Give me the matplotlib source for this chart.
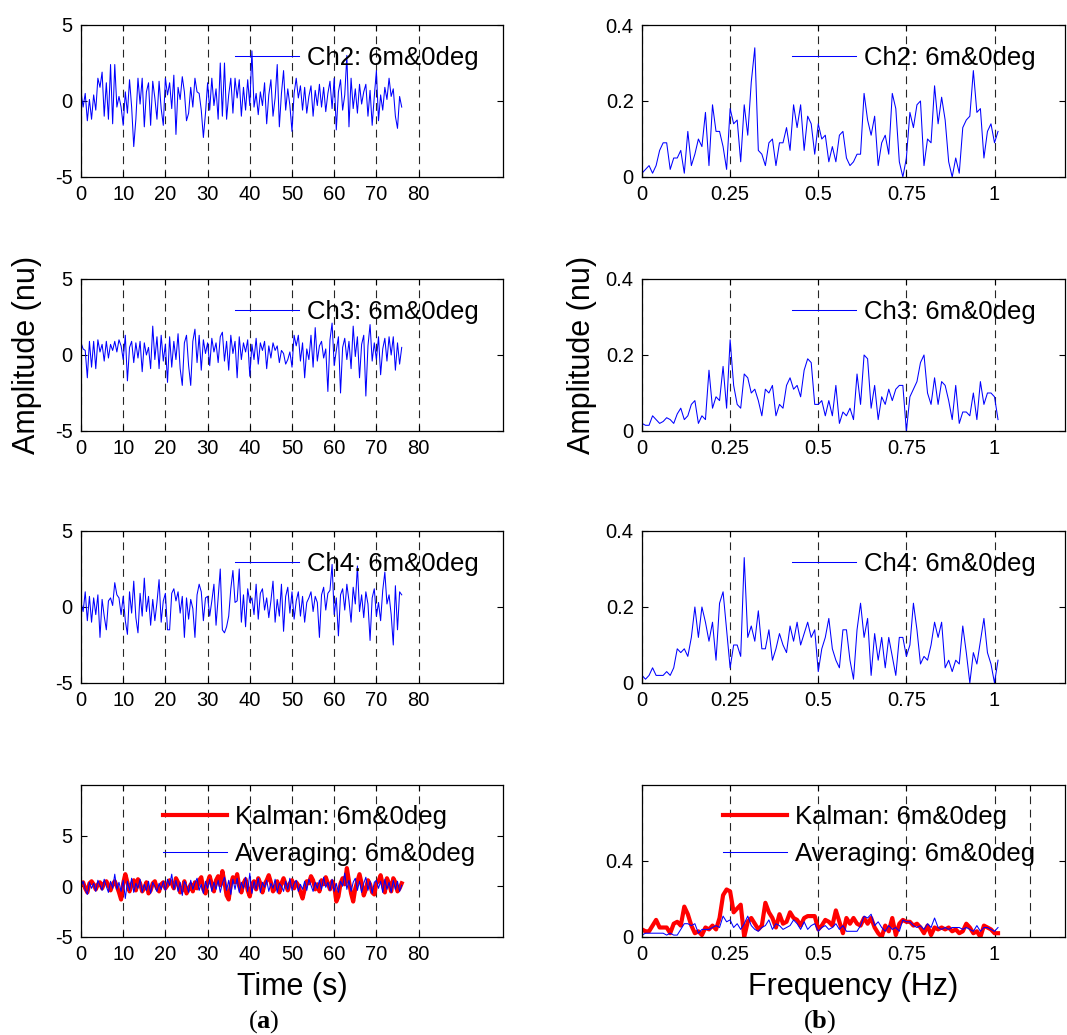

# Time signals and spectra of three channels plus Kalman / averaging fusion
import numpy as np
import matplotlib
matplotlib.use("Agg")
import matplotlib.pyplot as plt

plt.rcParams['font.family'] = ['Liberation Sans', 'DejaVu Sans']
plt.rcParams['axes.unicode_minus'] = False
plt.rcParams['mathtext.fontset'] = 'custom'
plt.rcParams['mathtext.bf'] = 'Liberation Serif:bold'

# sample step of the time traces (s) and of the spectra (Hz)
dt = 0.5
df = 0.01

ch2_time = [0.6, -0.4, 0.5, -1.3, 0.1, -1.2, 0.4, -0.6, 1.5, 0.9, 1.9, -1.0, 1.2, -1.2, 2.4, -1.5,
            2.4, -0.4, 0.3, -0.4, -1.6, 0.6, -0.8, 1.4, -0.4, -3.0, -1.2, 1.5, -0.2, 1.5, -1.7, 0.6,
            1.2, -1.6, 1.3, 0.2, -1.2, 1.3, -0.5, -1.6, 1.5, 0.4, 1.2, -0.5, 1.7, -2.2, 0.9, 0.1,
            1.6, 0.6, -1.3, -0.8, 0.9, -0.4, 1.5, 0.6, 0.5, -0.6, -2.4, -0.8, 1.2, -0.6, 1.5, -0.3,
            0.8, -1.2, 2.5, -1.0, 2.5, -1.2, 0.4, 1.5, -0.8, 1.5, 0.2, 1.4, -1.0, 0.9, -0.6, 1.4,
            -0.3, 3.3, -0.4, 0.5, -0.9, 0.6, -0.3, 1.2, -1.5, 0.4, 1.4, -1.0, 0.2, 2.4, -1.7, 0.5,
            2.0, -0.6, 0.8, -0.3, -2.0, 0.5, 1.5, 0.2, 1.0, -0.6, 0.9, -0.8, 0.3, 1.0, -1.0, 0.7,
            -0.3, 1.1, -0.4, 0.9, -0.7, 0.5, 1.3, -0.5, 1.5, -1.9, 0.6, 1.4, -0.6, 0.4, 3.0, -1.7,
            1.5, -0.5, 0.8, -0.8, 1.1, -0.2, 0.6, 1.1, -1.0, 0.7, -1.6, 0.3, 2.0, -1.3, 0.4, -0.6,
            0.9, 0.1, 1.5, 0.3, 0.8, -1.0, -1.8, 0.3, -0.4]

ch3_time = [0.8, 0.4, 0.3, -1.5, 0.9, -0.8, 0.9, -0.9, 1.0, 0.2, 0.7, -0.4, 0.9, -0.2, 0.7, 0.3,
            0.9, 0.2, 1.0, 0.6, -0.3, 1.3, -1.7, 0.5, 0.9, -0.5, 0.8, -0.2, 0.9, -1.1, 0.8, 0.0,
            0.5, -0.9, 1.9, -0.3, 1.2, -0.9, 1.3, -0.4, 0.7, -1.8, 1.2, -0.8, 0.9, -0.3, 1.4, -0.9,
            -2.0, 0.8, 1.3, -0.7, -2.0, 0.9, 1.7, -0.5, 1.3, -1.0, 1.0, 0.1, 0.8, -0.7, 1.1, 0.2,
            0.8, -0.5, 1.2, 1.5, -0.4, 0.9, -1.0, 1.3, 0.1, 0.9, -1.5, 1.2, -0.3, 0.8, 0.2, 1.0,
            -1.4, 0.7, -0.3, 1.1, -0.6, 0.8, 0.3, 0.9, -0.9, 0.6, -0.2, 0.8, 0.3, 0.6, -0.5, 0.3,
            0.1, -0.6, -0.3, 0.2, -0.8, 1.3, 0.6, 1.3, -0.4, 0.8, -1.5, 0.4, -0.3, 1.3, -0.8, 1.8,
            -0.4, 0.6, 0.9, -0.2, 0.4, -2.4, 1.0, 2.1, -0.7, 0.3, 1.2, -2.5, 0.5, 1.1, -0.3, 0.9,
            -0.9, 1.9, -0.1, 1.2, -1.5, 0.7, 1.3, -2.7, 0.6, 2.0, -0.4, 0.8, -0.3, 1.2, -1.3, 0.4,
            1.1, -0.4, 1.2, 0.0, 1.2, -1.0, 0.8, -0.6, 0.5]

ch4_time = [0.3, -0.3, 1.0, -0.9, 0.7, -1.0, 0.6, -0.5, 0.8, -2.0, 0.5, -0.6, -1.5, 0.4, 0.6, 0.1,
            1.6, 0.8, 0.6, -0.5, 0.7, -0.9, -1.8, 1.0, -0.4, 1.7, -0.7, -1.7, 0.9, -0.6, 1.9, -0.3,
            0.7, -1.2, 0.5, -0.9, 0.3, 1.8, -1.0, 0.4, 0.9, -1.5, -1.5, 0.9, 1.2, 0.4, 1.0, -0.4,
            0.7, -2.0, 0.6, -0.8, 0.5, -0.1, -2.0, 0.8, 1.5, 1.0, -0.9, 0.6, 0.7, -0.6, 0.4, 1.5,
            -1.2, 0.6, 2.5, -1.5, -1.7, -1.3, -0.6, 1.2, 2.4, 0.3, 0.4, 2.5, -1.0, 0.8, -1.3, 1.2,
            0.3, 0.6, -0.5, 1.5, -0.8, 0.9, 1.2, -0.2, 0.6, -0.7, 0.4, 1.7, -1.0, 0.5, -0.6, 1.5,
            -1.6, 0.7, 1.3, -0.4, 1.0, -0.8, 0.4, 1.0, -0.6, 0.7, -1.0, 0.3, 0.6, 1.0, -0.3, 0.7,
            0.3, -2.0, 0.8, 1.3, -0.2, 0.9, 1.1, 2.8, -0.5, 0.6, -1.9, 0.8, 1.2, -0.2, 1.5, 0.4,
            -1.0, 1.3, 0.2, 2.7, -0.3, 0.8, -0.7, 1.0, 0.2, -2.2, 0.6, 1.2, -0.6, 0.3, -0.9, 1.1,
            2.3, 0.2, 0.8, -0.5, -2.5, 1.4, -1.5, 1.0, 0.8]

kalman_time = [0.2, 0.4, -0.2, -0.6, 0.3, 0.5, 0.2, -0.3, 0.2, 0.4, -0.2, 0.3, 0.5, 0.1, -0.4, 0.2,
               0.5, 0.0, -0.6, -1.3, 0.3, 1.2, 0.4, -0.5, 0.2, 0.6, -0.4, 0.7, 0.3, -0.5, -0.2, 0.4,
               -0.7, -0.4, 0.3, 0.5, -0.2, -0.5, 0.2, 0.4, -0.2, 0.1, 0.6, 0.3, -0.2, 0.8, 0.4, -0.6,
               -0.4, 0.5, -0.7, -0.3, 0.2, -0.5, 0.4, -0.2, 0.6, 0.9, -0.3, -0.7, 0.4, 1.0, 0.2, -0.5,
               0.6, 1.0, 0.1, 1.5, 0.4, -0.9, -1.3, 0.2, 0.9, 0.4, 1.2, 0.0, -0.6, 0.3, 0.7, -0.4,
               -1.0, 0.2, 0.5, -0.3, 0.8, 0.3, -0.6, 0.2, 0.6, 1.1, 0.4, -0.5, -0.2, 0.5, -0.6, 0.3,
               0.8, 0.2, -0.4, 0.3, 0.6, -0.2, 0.4, 0.1, -0.6, -1.2, -0.3, 0.5, 0.3, 1.0, 0.6, -0.3,
               0.2, -0.5, 0.6, 0.2, 0.9, 0.3, -0.3, 0.5, 0.1, -1.5, -1.0, 0.3, 0.8, 0.2, 1.8, 0.5,
               -0.7, -1.5, -0.2, 0.5, 1.2, 0.3, -0.9, -0.3, 0.6, 0.2, -0.6, -0.8, 0.3, 0.5, 1.1, 0.2,
               -0.6, 0.8, 0.3, -0.5, 0.8, 0.4, -0.5, -0.2, 0.3]

avg_time = [0.0, 0.5, -0.3, -0.8, 0.4, -0.2, 0.3, -0.5, 0.6, 0.1, -0.4, 0.7, 0.0, -0.6, 0.5, -0.2,
            1.2, -0.3, 0.4, -0.5, 0.6, -1.2, 0.5, -0.4, 0.8, -0.6, 0.3, -0.2, 0.7, -0.6, 0.2, -0.4,
            0.5, -0.7, 0.4, 0.0, -0.5, 0.3, -0.3, 0.5, -0.4, 0.7, 0.1, 1.2, -0.3, 0.6, -0.5, 0.4,
            -0.9, 0.5, 0.1, -0.6, 0.6, -0.3, 0.3, 0.8, -0.4, 0.2, -0.7, 0.5, -0.2, 0.7, -0.5, 0.4,
            -0.3, 0.6, -0.6, 0.3, 0.9, -0.4, 0.6, -0.8, 0.7, -0.3, 0.8, -0.6, 0.4, -0.2, 0.9, -0.5,
            1.3, -0.7, 0.5, -0.3, 0.8, -0.6, 0.4, -0.1, 0.6, -0.5, 0.3, -0.2, 0.7, -0.6, 0.3, 0.0,
            -0.5, 0.5, -0.3, 0.8, -0.4, 0.3, 0.6, -0.5, 0.2, -0.3, 0.5, -0.4, 0.7, 0.1, -0.5, 0.4,
            -0.2, 0.6, -0.3, 0.9, -0.1, 0.4, -0.4, 0.7, -0.5, 0.3, -0.6, 0.5, 0.0, 1.3, -0.3, 0.6,
            -0.5, 0.4, 0.8, -0.4, 0.5, -0.6, 0.3, 0.9, -0.4, 0.5, -0.7, 0.4, 0.6, -0.2, 0.5, -0.6,
            0.7, -0.3, 0.4, -0.6, 0.6, -0.3, 0.5, -0.5, 0.1]

ch2_spec = [0.01, 0.02, 0.03, 0.01, 0.03, 0.07, 0.09, 0.09, 0.02, 0.05, 0.05, 0.07, 0.01, 0.12,
            0.03, 0.06, 0.10, 0.08, 0.17, 0.03, 0.19, 0.12, 0.12, 0.08, 0.02, 0.18, 0.14, 0.15,
            0.04, 0.19, 0.11, 0.25, 0.34, 0.07, 0.06, 0.03, 0.09, 0.10, 0.03, 0.09, 0.09, 0.13,
            0.07, 0.19, 0.13, 0.19, 0.07, 0.16, 0.14, 0.06, 0.14, 0.10, 0.11, 0.04, 0.08, 0.04,
            0.11, 0.12, 0.05, 0.03, 0.04, 0.06, 0.06, 0.22, 0.15, 0.11, 0.16, 0.03, 0.09, 0.11,
            0.06, 0.22, 0.18, 0.04, 0.00, 0.05, 0.17, 0.13, 0.19, 0.20, 0.03, 0.10, 0.09, 0.24,
            0.14, 0.21, 0.15, 0.04, 0.00, 0.05, 0.01, 0.13, 0.15, 0.16, 0.28, 0.17, 0.18, 0.05,
            0.12, 0.14, 0.09, 0.12]

ch3_spec = [0.02, 0.015, 0.015, 0.04, 0.03, 0.02, 0.025, 0.035, 0.03, 0.02, 0.045, 0.06, 0.03,
            0.04, 0.07, 0.08, 0.02, 0.04, 0.03, 0.16, 0.06, 0.09, 0.08, 0.17, 0.06, 0.24, 0.12,
            0.07, 0.06, 0.15, 0.14, 0.10, 0.11, 0.08, 0.04, 0.11, 0.10, 0.12, 0.04, 0.07, 0.06,
            0.12, 0.14, 0.11, 0.12, 0.09, 0.16, 0.19, 0.18, 0.07, 0.07, 0.08, 0.04, 0.08, 0.04,
            0.12, 0.02, 0.05, 0.04, 0.06, 0.03, 0.15, 0.07, 0.20, 0.19, 0.06, 0.12, 0.03, 0.09,
            0.07, 0.11, 0.08, 0.11, 0.12, 0.12, 0.00, 0.09, 0.11, 0.13, 0.18, 0.20, 0.10, 0.07,
            0.14, 0.07, 0.13, 0.12, 0.08, 0.03, 0.12, 0.02, 0.05, 0.05, 0.04, 0.10, 0.03, 0.13,
            0.07, 0.10, 0.10, 0.09, 0.03]

ch4_spec = [0.02, 0.01, 0.02, 0.04, 0.02, 0.02, 0.02, 0.03, 0.02, 0.04, 0.09, 0.08, 0.09, 0.07,
            0.12, 0.20, 0.12, 0.20, 0.16, 0.11, 0.16, 0.06, 0.21, 0.24, 0.14, 0.04, 0.10, 0.10,
            0.07, 0.33, 0.12, 0.15, 0.11, 0.19, 0.09, 0.09, 0.14, 0.06, 0.09, 0.13, 0.10, 0.08,
            0.15, 0.11, 0.16, 0.10, 0.13, 0.16, 0.12, 0.14, 0.03, 0.09, 0.12, 0.17, 0.09, 0.06,
            0.04, 0.14, 0.14, 0.06, 0.01, 0.14, 0.21, 0.12, 0.17, 0.02, 0.13, 0.06, 0.12, 0.04,
            0.12, 0.07, 0.02, 0.12, 0.12, 0.07, 0.10, 0.21, 0.14, 0.05, 0.07, 0.06, 0.10, 0.16,
            0.12, 0.16, 0.04, 0.06, 0.03, 0.06, 0.05, 0.15, 0.08, 0.00, 0.08, 0.05, 0.11, 0.17,
            0.08, 0.05, 0.00, 0.06]

kalman_spec = [0.04, 0.03, 0.03, 0.06, 0.09, 0.05, 0.05, 0.05, 0.02, 0.07, 0.08, 0.06, 0.16, 0.12,
               0.06, 0.02, 0.03, 0.01, 0.05, 0.04, 0.06, 0.04, 0.10, 0.22, 0.25, 0.24, 0.13, 0.15,
               0.17, 0.00, 0.08, 0.10, 0.07, 0.04, 0.06, 0.18, 0.13, 0.10, 0.05, 0.12, 0.07, 0.08,
               0.13, 0.10, 0.09, 0.06, 0.10, 0.11, 0.11, 0.11, 0.04, 0.06, 0.09, 0.08, 0.06, 0.14,
               0.08, 0.02, 0.10, 0.07, 0.10, 0.07, 0.06, 0.10, 0.07, 0.10, 0.05, 0.02, 0.00, 0.06,
               0.03, 0.10, 0.01, 0.07, 0.09, 0.08, 0.08, 0.06, 0.07, 0.05, 0.02, 0.06, 0.01, 0.05,
               0.04, 0.05, 0.04, 0.05, 0.03, 0.04, 0.02, 0.03, 0.07, 0.05, 0.02, 0.03, 0.00, 0.06,
               0.05, 0.04, 0.02, 0.02]

avg_spec = [0.01, 0.02, 0.02, 0.02, 0.02, 0.02, 0.02, 0.01, 0.02, 0.01, 0.01, 0.04, 0.07, 0.07,
            0.06, 0.07, 0.02, 0.04, 0.04, 0.04, 0.05, 0.06, 0.05, 0.11, 0.08, 0.09, 0.05, 0.07,
            0.04, 0.07, 0.11, 0.06, 0.04, 0.03, 0.05, 0.06, 0.09, 0.04, 0.07, 0.06, 0.04, 0.05,
            0.06, 0.09, 0.07, 0.04, 0.08, 0.04, 0.06, 0.07, 0.03, 0.05, 0.06, 0.04, 0.05, 0.07,
            0.04, 0.06, 0.03, 0.03, 0.03, 0.03, 0.06, 0.11, 0.10, 0.12, 0.06, 0.08, 0.05, 0.03,
            0.06, 0.04, 0.05, 0.03, 0.09, 0.08, 0.08, 0.06, 0.05, 0.06, 0.04, 0.07, 0.05, 0.10,
            0.05, 0.04, 0.05, 0.04, 0.05, 0.05, 0.05, 0.04, 0.05, 0.04, 0.03, 0.06, 0.03, 0.05,
            0.05, 0.04, 0.03, 0.05]

channel_labels = ['Ch2: 6m&0deg', 'Ch3: 6m&0deg', 'Ch4: 6m&0deg']
fused_labels = ['Kalman: 6m&0deg', 'Averaging: 6m&0deg']

time_ticks = [0, 10, 20, 30, 40, 50, 60, 70, 80]
freq_ticks = [0, 0.25, 0.5, 0.75, 1]
freq_tick_labels = ['0', '0.25', '0.5', '0.75', '1']

# figure geometry (pixels of the 1067x1035 picture)
W, H = 1067, 1035
fig = plt.figure(figsize=(W / 100, H / 100), dpi=100)

left_x0, left_x1 = 81, 503
right_x0, right_x1 = 642, 1065
row_tops = [25, 279, 531, 785]
row_h = 152


def make_axes(x0, x1, top):
    return fig.add_axes([x0 / W, 1 - (top + row_h) / H, (x1 - x0) / W, row_h / H])


def style_axes(ax):
    ax.tick_params(direction='in', top=True, right=True, length=4, width=0.8,
                   labelsize=14.5, pad=6)
    for sp in ax.spines.values():
        sp.set_linewidth(0.9)
    ax.grid(True, axis='x', color='0.15', linestyle=(0, (7, 5)), linewidth=0.8)


def add_legend(ax, x_anchor, y_anchor, spacing=0.25):
    ax.legend(loc='center left', bbox_to_anchor=(x_anchor, y_anchor), frameon=False,
              fontsize=18.5, handlelength=2.5, handletextpad=0.3, borderpad=0,
              borderaxespad=0, labelspacing=spacing)


single_time = [ch2_time, ch3_time, ch4_time]
single_spec = [ch2_spec, ch3_spec, ch4_spec]

axes_left = []
axes_right = []
for i in range(4):
    axl = make_axes(left_x0, left_x1, row_tops[i])
    axr = make_axes(right_x0, right_x1, row_tops[i])
    axes_left.append(axl)
    axes_right.append(axr)

    if i < 3:
        y = single_time[i]
        t = np.arange(len(y)) * dt
        axl.plot(t, y, color='blue', linewidth=0.75, label=channel_labels[i])
        s = single_spec[i]
        f = np.arange(len(s)) * df
        axr.plot(f, s, color='blue', linewidth=0.75, label=channel_labels[i])

        axl.set_ylim(-5, 5)
        axl.set_yticks([-5, 0, 5])
        axr.set_ylim(0, 0.4)
        axr.set_yticks([0, 0.2, 0.4])
        axr.set_yticklabels(['0', '0.2', '0.4'])
        add_legend(axl, 0.365, 0.783)
        add_legend(axr, 0.355, 0.783)
    else:
        t = np.arange(len(kalman_time)) * dt
        axl.plot(t, kalman_time, color='red', linewidth=3.0, label=fused_labels[0])
        axl.plot(t, avg_time, color='blue', linewidth=0.75, label=fused_labels[1])
        f = np.arange(len(kalman_spec)) * df
        axr.plot(f, kalman_spec, color='red', linewidth=3.0, label=fused_labels[0])
        axr.plot(f, avg_spec, color='blue', linewidth=0.75, label=fused_labels[1])

        axl.set_ylim(-5, 10)
        axl.set_yticks([-5, 0, 5])
        axr.set_ylim(0, 0.8)
        axr.set_yticks([0, 0.4])
        axr.set_yticklabels(['0', '0.4'])
        add_legend(axl, 0.194, 0.666, spacing=0.5)
        add_legend(axr, 0.191, 0.666, spacing=0.5)

    axl.set_xlim(0, 100)
    axl.set_xticks(time_ticks)
    axr.set_xlim(0, 1.2)
    if i < 3:
        axr.set_xticks(freq_ticks)
        axr.set_xticklabels(freq_tick_labels)
    else:
        # the last spectrum panel carries one more (unlabelled) grid line
        axr.set_xticks(freq_ticks + [1.1])
        axr.set_xticklabels(freq_tick_labels + [''])
    style_axes(axl)
    style_axes(axr)

# axis labels
axes_left[1].set_ylabel('Amplitude (nu)', fontsize=22)
axes_left[1].yaxis.set_label_coords(-0.092, 0.5)
axes_right[1].set_ylabel('Amplitude (nu)', fontsize=22)
axes_right[1].yaxis.set_label_coords(-0.106, 0.5)

axes_left[3].set_xlabel('Time (s)', fontsize=22)
axes_left[3].xaxis.set_label_coords(0.5, -0.23)
axes_right[3].set_xlabel('Frequency (Hz)', fontsize=22)
axes_right[3].xaxis.set_label_coords(0.5, -0.23)

# panel tags: plain parentheses around a bold serif letter
fig.text(264 / W, 1 - 1022 / H, r'($\mathbf{a}$)', ha='center', va='center', fontsize=19,
         family='Liberation Serif')
fig.text(820 / W, 1 - 1022 / H, r'($\mathbf{b}$)', ha='center', va='center', fontsize=19,
         family='Liberation Serif')

fig.savefig('out.png', dpi=100)
